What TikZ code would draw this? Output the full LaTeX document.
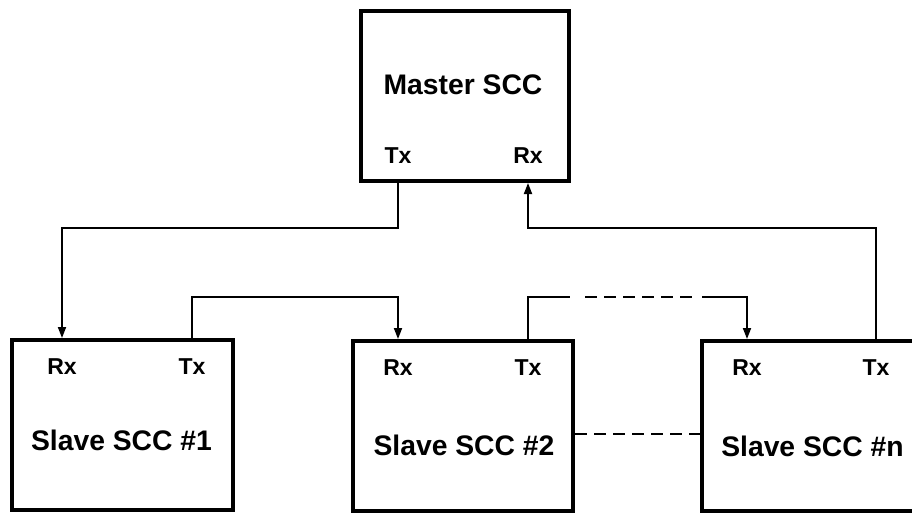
\documentclass[tikz,border=0pt]{standalone}
\usepackage{fontspec}
\setmainfont{Liberation Sans}
\usetikzlibrary{arrows.meta,calc}
\begin{document}
\begin{tikzpicture}[x=1pt,y=-1pt,
  box/.style={draw,line width=4pt,inner sep=0pt,minimum height=170pt},
  titletxt/.style={anchor=base,inner sep=0pt,font=\fontsize{28.3}{28.3}\selectfont\bfseries},
  porttxt/.style={anchor=base,inner sep=0pt,font=\fontsize{23}{23}\selectfont\bfseries},
  conn/.style={line width=1.8pt},
  arr/.style={-{Triangle[length=11pt,width=8pt]}},
  dashline/.style={dash pattern=on 12pt off 7pt}]
\useasboundingbox (0,0) rectangle (912,513);
\clip (0,0) rectangle (912,513);
% boxes
\node[box,minimum width=208pt] (m)  at (465,96)  {};
\node[box,minimum width=221pt] (s1) at (122,425) {};
\node[box,minimum width=220pt] (s2) at (463,426) {};
\node[box,minimum width=220pt] (sn) at (811.5,426) {};
% titles
\node[titletxt] (mt)  at (463,95)    {Master SCC};
\node[titletxt] (s1t) at (121.5,450) {Slave SCC \#1};
\node[titletxt] (s2t) at (464,455)   {Slave SCC \#2};
\node[titletxt] (snt) at (812.5,456) {Slave SCC \#n};
% port labels
\node[porttxt] (mtx)  at (398,164) {Tx};
\node[porttxt] (mrx)  at (528,164) {Rx};
\node[porttxt] (s1rx) at (62,374)  {Rx};
\node[porttxt] (s1tx) at (192,374) {Tx};
\node[porttxt] (s2rx) at (398,375) {Rx};
\node[porttxt] (s2tx) at (528,375) {Tx};
\node[porttxt] (snrx) at (747,375) {Rx};
\node[porttxt] (sntx) at (876,375) {Tx};
% bus levels
\coordinate (busa) at (0,228);
\coordinate (busb) at (0,297);
% connectors
\draw[conn,arr] (mtx |- m.south) -- (mtx |- busa) -- (s1rx |- busa) -- (s1rx |- s1.north);
\draw[conn,arr] (s1tx |- s1.north) -- (s1tx |- busb) -- (s2rx |- busb) -- (s2rx |- s2.north);
\draw[conn,arr,dash pattern=on 84pt off 15pt on 12pt off 7pt on 12pt off 7pt on 12pt off 7pt on 12pt off 7pt on 12pt off 7pt on 12pt off 10pt on 400pt]
  (s2tx |- s2.north) -- (s2tx |- busb) -- (snrx |- busb) -- (snrx |- sn.north);
\draw[conn,arr] (sntx |- sn.north) -- (sntx |- busa) -- (mrx |- busa) -- (mrx |- m.south);
\draw[conn,dashline] ($(s2.east)+(0,8)$) -- ($(sn.west)+(0,8)$);
\end{tikzpicture}
\end{document}
